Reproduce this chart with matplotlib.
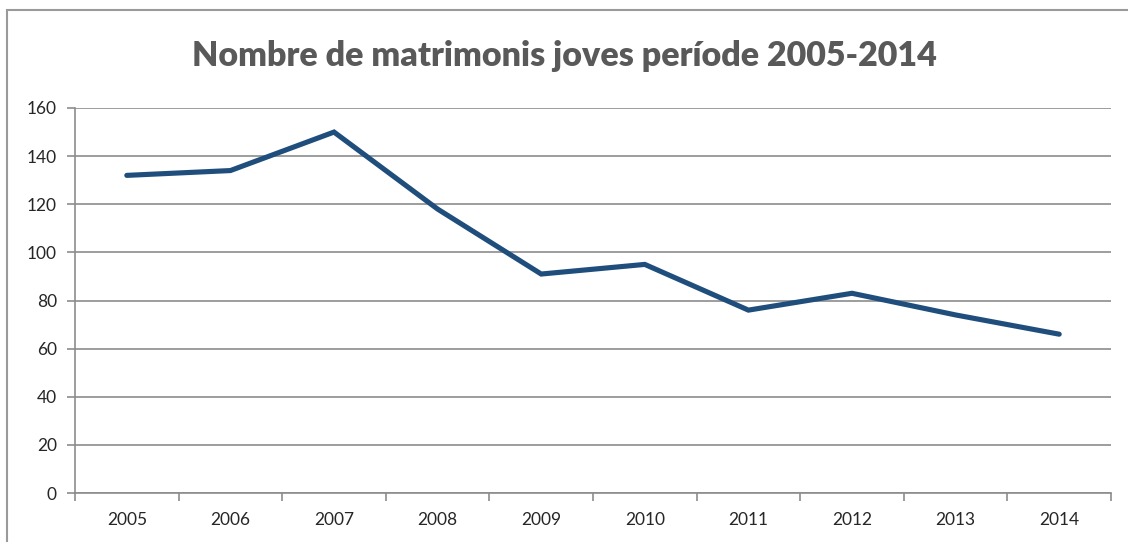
import matplotlib
matplotlib.use("Agg")
import matplotlib.pyplot as plt
from matplotlib.patches import Rectangle

# data
years = ["2005", "2006", "2007", "2008", "2009", "2010", "2011", "2012", "2013", "2014"]
marriages = [132, 134, 150, 118, 91, 95, 76, 83, 74, 66]
y_ticks = [0, 20, 40, 60, 80, 100, 120, 140, 160]

TITLE = "Nombre de matrimonis joves període 2005-2014"
LINE = "#1f4e7d"
GRID = "#8c8c8c"
TEXT = "#262626"

plt.rcParams["font.family"] = ["Lato", "DejaVu Sans"]

fig = plt.figure(figsize=(11.28, 5.42), dpi=100)
# outer chart frame (cut off at right/bottom, like the reference crop)
fig.patches.append(Rectangle((7 / 1128, -0.1), 1.2, 1.1 - 10 / 542,
                             transform=fig.transFigure, fill=False,
                             edgecolor="#9a9a9a", lw=1.5))

ax = fig.add_axes([75 / 1128, 49 / 542, (1111 - 75) / 1128, (493 - 108) / 542])
x = range(len(years))
ax.plot(x, marriages, color=LINE, lw=3.7, solid_capstyle="round", solid_joinstyle="miter")

ax.set_xlim(-0.5, len(years) - 0.5)
ax.set_ylim(0, 160)
ax.set_yticks(y_ticks)
ax.set_xticks(list(x))
ax.set_xticklabels(years)
ax.set_xticks([i - 0.5 for i in range(len(years) + 1)], minor=True)
ax.grid(axis="y", color=GRID, lw=1.2)
ax.set_axisbelow(True)

for side in ["top", "right"]:
    ax.spines[side].set_visible(False)
for side in ["left", "bottom"]:
    ax.spines[side].set_color(GRID)
    ax.spines[side].set_linewidth(1.2)

ax.tick_params(axis="y", length=6, width=1.2, color=GRID, labelsize=12.5, labelcolor=TEXT, pad=7)
ax.tick_params(axis="x", which="major", length=0, labelsize=12.5, labelcolor=TEXT, pad=14)
ax.tick_params(axis="x", which="minor", length=6, width=1.2, color=GRID)

fig.text(0.5, 1 - 56 / 542, TITLE, ha="center", va="center",
         fontsize=24.5, fontweight="heavy", color="#595959")

fig.savefig("out.png", dpi=100)
